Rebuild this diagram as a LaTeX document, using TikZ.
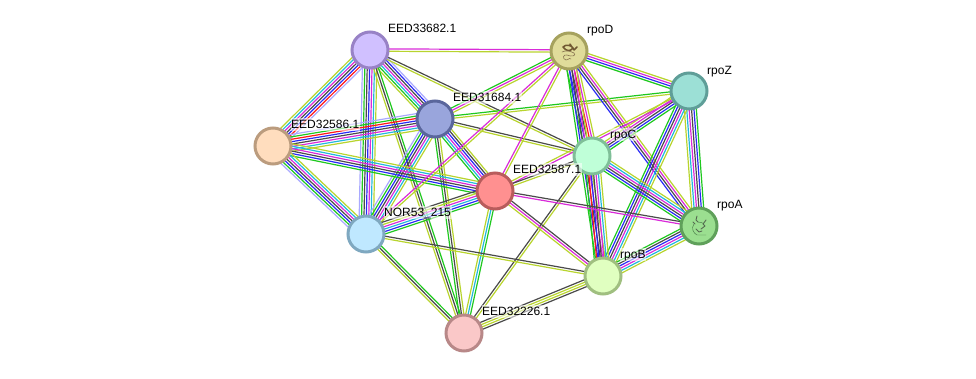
\documentclass[tikz,border=0pt]{standalone}
\usepackage{fontspec}
\setmainfont{Liberation Sans}
\usetikzlibrary{calc,backgrounds}
% evidence channel colours
\definecolor{L}{HTML}{A9A9FF}
\definecolor{G}{HTML}{1FC81F}
\definecolor{R}{HTML}{FF1A1A}
\definecolor{B}{HTML}{2A2AF5}
\definecolor{K}{HTML}{4A4A4A}
\definecolor{M}{HTML}{D92BD9}
\definecolor{C}{HTML}{22B8DC}
\definecolor{Y}{HTML}{B8D42E}
\newcount\bundlecount
\newcommand{\linespacing}{2.4}
% \bundle{from}{to}{colours}: parallel lines, first colour on the left of from->to
\newcommand{\bundle}[3]{%
  \global\bundlecount=0
  \foreach \chan in {#3}{\global\advance\bundlecount by 1}%
  \pgfmathsetmacro{\firstoff}{(\the\bundlecount-1)*\linespacing/2}%
  \foreach \chan [count=\idx] in {#3}{%
    \pgfmathsetmacro{\off}{\firstoff-(\idx-1)*\linespacing}%
    \draw[edgeline,draw=\chan] ($(#1)!\off pt!90:(#2)$) -- ($(#2)!\off pt!-90:(#1)$);
  }%
}
\tikzset{
  x=1pt,y=-1pt,
  edgeline/.style={line width=1.2pt},
  protein/.style={circle,minimum size=36pt,inner sep=0pt,line width=3pt},
  tag/.style={anchor=west,font=\fontsize{12}{12}\selectfont,inner sep=0.6pt,text height=9pt,text depth=2.5pt,fill=white,fill opacity=0.55,text opacity=1},
  fold/.style={line cap=round,line join=round},
}
\begin{document}
\begin{tikzpicture}
\useasboundingbox (0,0) rectangle (976,378);

\node[protein,fill={rgb,255:red,208;green,192;blue,255},draw={rgb,255:red,152;green,130;blue,198}] (n33682) at (370,50) {};
\node[protein,fill={rgb,255:red,224;green,220;blue,154},draw={rgb,255:red,166;green,162;blue,94}] (rpoD) at (569,51) {};
\node[protein,fill={rgb,255:red,156;green,224;blue,214},draw={rgb,255:red,95;green,158;blue,152}] (rpoZ) at (689,91) {};
\node[protein,fill={rgb,255:red,153;green,165;blue,220},draw={rgb,255:red,90;green,102;blue,156}] (n31684) at (435,119) {};
\node[protein,fill={rgb,255:red,255;green,221;blue,190},draw={rgb,255:red,187;green,156;blue,126}] (n32586) at (273,146) {};
\node[protein,fill={rgb,255:red,191;green,255;blue,216},draw={rgb,255:red,127;green,191;blue,152}] (rpoC) at (592,156) {};
\node[protein,fill={rgb,255:red,255;green,144;blue,144},draw={rgb,255:red,184;green,92;blue,92}] (n32587) at (495,191) {};
\node[protein,fill={rgb,255:red,155;green,223;blue,144},draw={rgb,255:red,95;green,160;blue,90}] (rpoA) at (699,226) {};
\node[protein,fill={rgb,255:red,191;green,232;blue,255},draw={rgb,255:red,127;green,168;blue,192}] (nor) at (366,234) {};
\node[protein,fill={rgb,255:red,224;green,255;blue,192},draw={rgb,255:red,160;green,191;blue,128}] (rpoB) at (603,276) {};
\node[protein,fill={rgb,255:red,250;green,200;blue,200},draw={rgb,255:red,184;green,136;blue,136}] (n32226) at (464,333) {};

% folded-chain sketches inside the two structure-bearing proteins
\draw[fold,line width=1.5pt,draw={rgb,255:red,112;green,88;blue,50}]
  (563,47) .. controls (566,44) and (571,45) .. (573,48)
  .. controls (570,52) and (566,51) .. (563,47)
  (570,44) -- (574,50) -- (577,47);
\draw[fold,line width=0.6pt,draw={rgb,255:red,135;green,115;blue,80}]
  (562,52) .. controls (566,50) and (570,51) .. (574,53)
  .. controls (577,56) and (571,57) .. (567,55)
  .. controls (563,54) and (562,59) .. (566,60)
  .. controls (569,61) and (568,57) .. (571,59);
\draw[fold,line width=0.9pt,draw={rgb,255:red,85;green,105;blue,80}]
  (697,216) -- (696,220) -- (698,222)
  (706,220) -- (703,224) -- (705,226) -- (701,229)
  (693,222) -- (695,224)
  (696,229) -- (699,232) -- (702,231);
\draw[fold,line width=0.45pt,draw={rgb,255:red,70;green,120;blue,70}]
  (694,224) .. controls (691,228) and (693,233) .. (697,235)
  .. controls (700,236) and (703,234) .. (706,235)
  (698,222) .. controls (701,223) and (703,222) .. (704,224);

\begin{scope}[on background layer]
  \bundle{n33682}{rpoD}{M,Y}
  \bundle{n33682}{n31684}{L,B,K,M,C,G,Y}
  \bundle{n32586}{n33682}{Y,C,M,K,B,R,L}
  \bundle{n33682}{nor}{Y,C,M,B,K,G,L}
  \bundle{n33682}{rpoC}{K,Y}
  \bundle{n33682}{n32226}{G,K,Y}
  \bundle{n32586}{n31684}{L,G,R,B,K,M,C,Y}
  \bundle{n31684}{rpoD}{G,M,Y}
  \bundle{n31684}{rpoZ}{G,Y}
  \bundle{n31684}{rpoC}{K,Y}
  \bundle{n31684}{n32587}{Y,K,B,M,C,G}
  \bundle{nor}{n31684}{L,G,B,K,M,C,Y}
  \bundle{n31684}{n32226}{Y,K,G}
  \bundle{n32586}{n32587}{Y,C,M,K,B,G}
  \bundle{n32586}{nor}{Y,C,M,K,B,G,L}
  \bundle{nor}{rpoD}{M,Y}
  \bundle{n32587}{rpoD}{M,Y}
  \bundle{rpoD}{rpoC}{Y,M,R,K,B,G}
  \bundle{rpoD}{rpoB}{Y,M,K,B,G}
  \bundle{rpoD}{rpoA}{Y,M,K,B}
  \bundle{rpoD}{rpoZ}{Y,M,B,G}
  \bundle{rpoC}{rpoZ}{Y,M,K,B,G}
  \bundle{n32587}{rpoZ}{Y,M}
  \bundle{rpoZ}{rpoA}{G,B,K,M,C,Y}
  \bundle{rpoB}{rpoZ}{G,B,K,M,C,Y}
  \bundle{rpoC}{rpoA}{Y,C,M,K,B,G}
  \bundle{rpoC}{rpoB}{Y,C,M,K,B,R,G}
  \bundle{n32587}{rpoC}{K,Y}
  \bundle{n32226}{rpoC}{K,Y}
  \bundle{n32587}{rpoA}{K,M}
  \bundle{n32587}{rpoB}{K,M,Y}
  \bundle{nor}{n32587}{K,Y,M,C,B,G}
  \bundle{n32226}{n32587}{Y,C,G}
  \bundle{nor}{rpoB}{K,Y}
  \bundle{nor}{n32226}{G,K,Y}
  \bundle{n32226}{rpoB}{K,Y,Y,K}
  \bundle{rpoB}{rpoA}{G,K,B,M,C,Y}
\end{scope}

\node[tag] (t33682) at (387.4,28.8) {EED33682.1};
\node[tag] (trpoD) at (586.4,29.8) {rpoD};
\node[tag] (trpoZ) at (706.4,70.8) {rpoZ};
\node[tag] (t31684) at (452.4,97.8) {EED31684.1};
\node[tag] (t32586) at (290.4,124.8) {EED32586.1};
\node[tag] (trpoC) at (609.4,134.8) {rpoC};
\node[tag] (t32587) at (512.4,169.8) {EED32587.1};
\node[tag] (trpoA) at (716.4,204.8) {rpoA};
\node[tag] (tnor) at (383.4,212.8) {NOR53\_215};
\node[tag] (trpoB) at (619.4,254.8) {rpoB};
\node[tag] (t32226) at (481.4,311.8) {EED32226.1};
\end{tikzpicture}
\end{document}
